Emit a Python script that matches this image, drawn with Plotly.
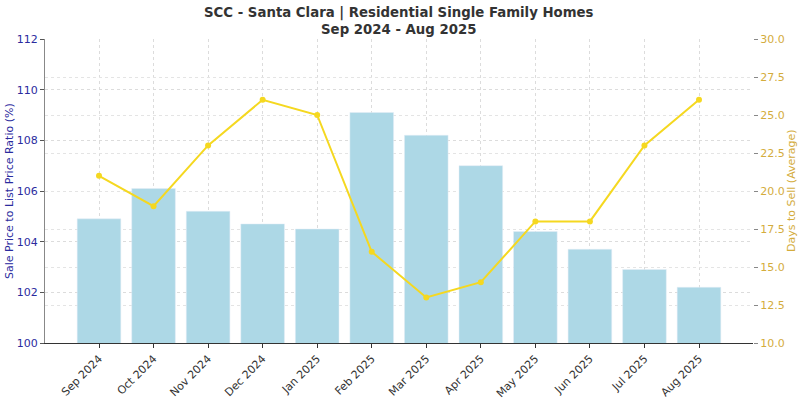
import plotly.graph_objects as go

months = ["Sep 2024", "Oct 2024", "Nov 2024", "Dec 2024", "Jan 2025", "Feb 2025",
          "Mar 2025", "Apr 2025", "May 2025", "Jun 2025", "Jul 2025", "Aug 2025"]
sale_to_list = [104.9, 106.1, 105.2, 104.7, 104.5, 109.1, 108.2, 107.0, 104.4, 103.7, 102.9, 102.2]
days_to_sell = [21, 19, 23, 26, 25, 16, 13, 14, 18, 18, 23, 26]

left_ticks = [100, 102, 104, 106, 108, 110, 112]
right_ticks = [10.0, 12.5, 15.0, 17.5, 20.0, 22.5, 25.0, 27.5, 30.0]

FONT = "DejaVu Sans"
LEFT_C = "#2b2b9e"
RIGHT_C = "#d4ac3c"

x_idx = list(range(len(months)))

fig = go.Figure()
fig.add_trace(go.Bar(x=x_idx, y=sale_to_list, base=0, marker_color="#ADD8E6",
                     width=0.8, yaxis="y", showlegend=False))
fig.add_trace(go.Scatter(x=x_idx, y=days_to_sell, yaxis="y2", mode="lines+markers",
                         line=dict(color="#F5D820", width=2),
                         marker=dict(color="#F5D820", size=6), showlegend=False))

fig.update_layout(
    width=798, height=398,
    margin=dict(l=45, r=45, t=39, b=55, autoexpand=False),
    paper_bgcolor="white", plot_bgcolor="white",
    font=dict(family=FONT, size=11, color="#333"),
    bargap=0.2,
    xaxis=dict(range=[-0.99, 11.99], tickmode="array", tickvals=x_idx, ticktext=months,
               tickangle=-45, ticks="outside", ticklen=4, tickcolor="#333", automargin=False,
               showgrid=True, gridcolor="#dcdcdc", griddash="dot", gridwidth=1,
               showline=True, linecolor="#333", linewidth=1,
               tickfont=dict(family=FONT, size=11, color="#333"), zeroline=False),
    yaxis=dict(range=[100, 112], tickvals=left_ticks, ticks="outside", ticklen=4, automargin=False,
               tickcolor="#555", showgrid=True, gridcolor="#dcdcdc", griddash="dot",
               showline=True, linecolor="#888", linewidth=1, zeroline=False,
               tickfont=dict(family=FONT, size=11, color=LEFT_C)),
    yaxis2=dict(range=[10, 30], tickvals=right_ticks, ticktext=[f"{v:.1f}" for v in right_ticks],
                overlaying="y", side="right", ticks="outside", ticklen=4, automargin=False,
                tickcolor="#888", showgrid=True, gridcolor="#e4e4e4", griddash="dot",
                showline=False, zeroline=False,
                tickfont=dict(family=FONT, size=11, color=RIGHT_C)),
    annotations=[
        dict(text="<b>SCC - Santa Clara | Residential Single Family Homes<br>Sep 2024 - Aug 2025</b>",
             xref="paper", yref="paper", x=0.5, y=1, yshift=36, xanchor="center", yanchor="top",
             showarrow=False, font=dict(family=FONT, size=13.3, color="#333")),
        dict(text="Sale Price to List Price Ratio (%)", xref="paper", yref="paper",
             x=0, xshift=-36, y=0.5, textangle=-90, xanchor="center", yanchor="middle",
             showarrow=False, font=dict(family=FONT, size=11, color=LEFT_C)),
        dict(text="Days to Sell (Average)", xref="paper", yref="paper",
             x=1, xshift=38, y=0.5, textangle=-90, xanchor="center", yanchor="middle",
             showarrow=False, font=dict(family=FONT, size=11, color=RIGHT_C)),
    ],
)

fig.write_html("out.html", config={"displayModeBar": False},
               post_script="document.body.style.margin='0';document.body.style.overflow='hidden';")
